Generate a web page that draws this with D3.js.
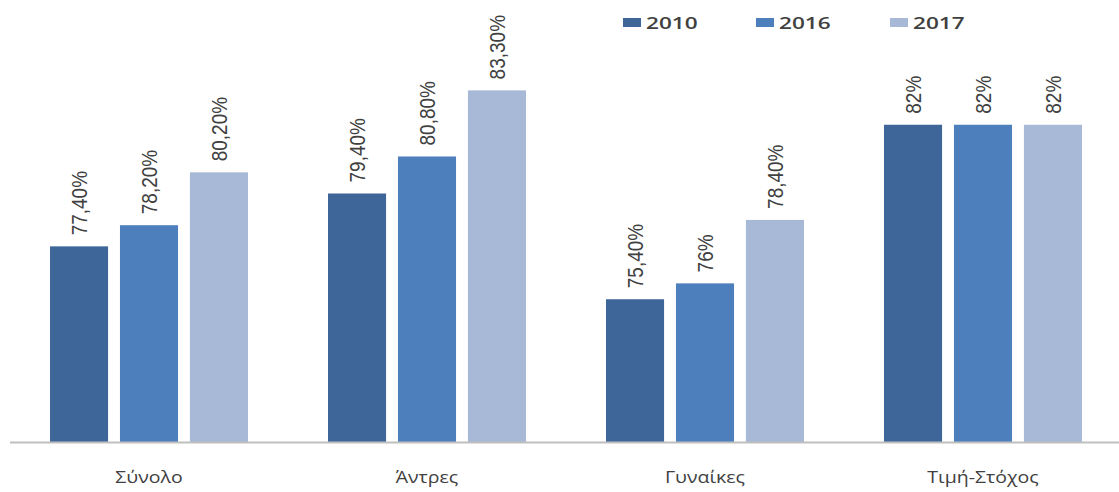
<!DOCTYPE html>
<html>
<head>
<meta charset="utf-8">
<script src="https://cdn.jsdelivr.net/npm/d3@7"></script>
<style>
  body { margin: 0; background: #fff; }
  text { font-family: "Open Sans", "Liberation Sans", sans-serif; fill: #404040; }
</style>
</head>
<body>
<script>
// categories and series
const categories = ["Σύνολο", "Άντρες", "Γυναίκες", "Τιμή-Στόχος"];
const years = ["2010", "2016", "2017"];
const v2010 = [77.4, 79.4, 75.4, 82];
const v2016 = [78.2, 80.8, 76, 82];
const v2017 = [80.2, 83.3, 78.4, 82];
const labels2010 = ["77,40%", "79,40%", "75,40%", "82%"];
const labels2016 = ["78,20%", "80,80%", "76%", "82%"];
const labels2017 = ["80,20%", "83,30%", "78,40%", "82%"];
const colors = ["#3e6699", "#4c7fbc", "#a8b9d8"];

const width = 1119, height = 492;

const svg = d3.select("body").append("svg")
    .attr("width", width)
    .attr("height", height);

const x0 = d3.scaleBand().domain(categories).range([10, 1122]);
const x1 = d3.scaleBand().domain(years).range([40, 238]).paddingInner(0.17);
const y = d3.scaleLinear().domain([70, 86]).range([442, 19]);

const values = [v2010, v2016, v2017];
const labels = [labels2010, labels2016, labels2017];

// flatten for drawing
let rows = [];
categories.forEach((c, i) => {
    years.forEach((yr, j) => {
        rows.push({cat: c, year: yr, v: values[j][i], label: labels[j][i], color: colors[j]});
    });
});

svg.selectAll("rect.bar")
    .data(rows)
    .enter()
    .append("rect")
    .attr("class", "bar")
    .attr("x", d => x0(d.cat) + x1(d.year))
    .attr("y", d => y(d.v))
    .attr("width", x1.bandwidth())
    .attr("height", d => y(70) - y(d.v))
    .style("fill", d => d.color);

svg.selectAll("text.val")
    .data(rows)
    .enter()
    .append("text")
    .attr("class", "val")
    .attr("transform", d => {
        let cx = x0(d.cat) + x1(d.year) + x1.bandwidth() / 2;
        return "translate(" + cx + "," + (y(d.v) - 11) + ") rotate(-90) scale(1,1.15)";
    })
    .attr("dy", "0.35em")
    .style("font-family", "'Liberation Sans', sans-serif")
    .style("font-size", "19px")
    .text(d => d.label);

// x axis line
svg.append("line")
    .attr("x1", 10).attr("x2", width)
    .attr("y1", 442.5).attr("y2", 442.5)
    .style("stroke", "#bfbfbf")
    .style("stroke-width", 2);

svg.selectAll("text.cat")
    .data(categories)
    .enter()
    .append("text")
    .attr("class", "cat")
    .attr("transform", d => "translate(" + (x0(d) + x0.bandwidth() / 2) + ",483) scale(1.22,1)")
    .attr("text-anchor", "middle")
    .style("font-size", "16px")
    .text(d => d);

// legend
const legendX = [623, 756, 890];
const legend = svg.selectAll("g.leg")
    .data(years)
    .enter()
    .append("g")
    .attr("class", "leg")
    .attr("transform", (d, i) => "translate(" + legendX[i] + ",0)");

legend.append("rect")
    .attr("x", 0).attr("y", 18)
    .attr("width", 18).attr("height", 9)
    .style("fill", (d, i) => colors[i]);

legend.append("text")
    .attr("transform", "translate(23,29) scale(1.33,1)")
    .style("font-size", "17px")
    .style("font-weight", "600")
    .text(d => d);
</script>
</body>
</html>
